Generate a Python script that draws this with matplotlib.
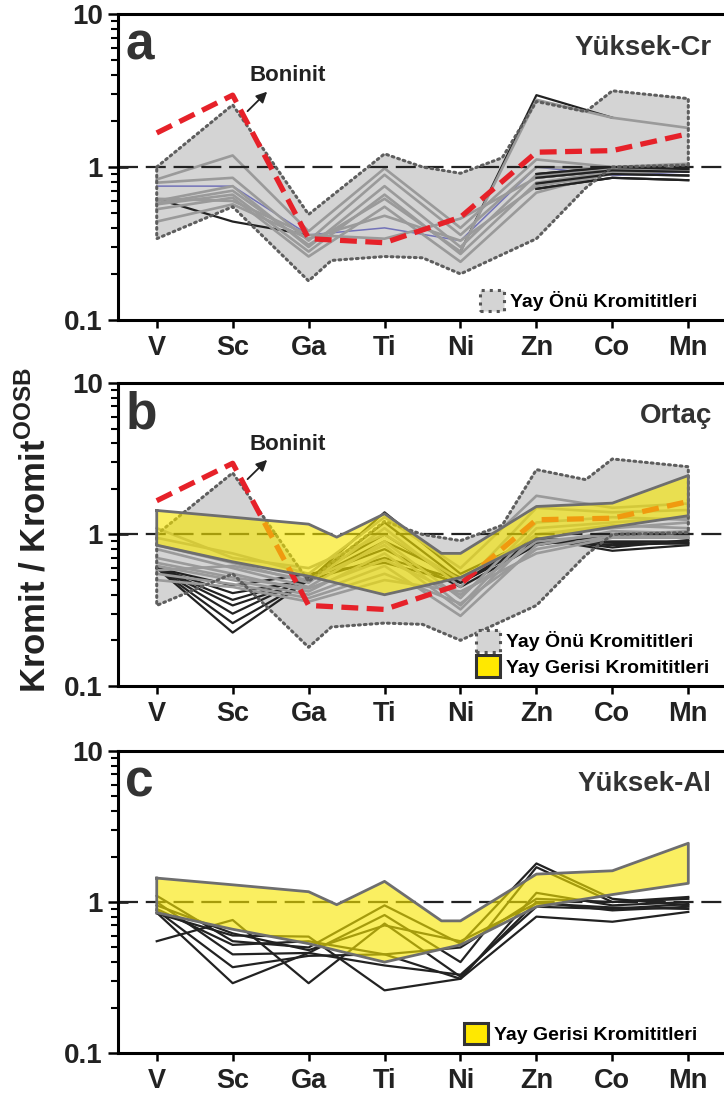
import numpy as np
import matplotlib
matplotlib.use('Agg')
from matplotlib import pyplot as plt
from matplotlib.patches import Patch
from matplotlib.ticker import LogLocator, NullFormatter, FixedFormatter, FixedLocator

plt.rcParams['font.family'] = ['Liberation Sans', 'DejaVu Sans']
plt.rcParams['font.weight'] = 'bold'
plt.rcParams['mathtext.fontset'] = 'custom'
plt.rcParams['mathtext.rm'] = 'Liberation Sans:bold'
plt.rcParams['mathtext.bf'] = 'Liberation Sans:bold'

nan = np.nan
elements = ['V', 'Sc', 'Ga', 'Ti', 'Ni', 'Zn', 'Co', 'Mn']

# boninit referans cizgisi
boninit = [1.67, 2.95, 0.34, 0.32, 0.47, 1.25, 1.28, 1.65]

# yay onu kromititleri zarfi (ust / alt sinir)
yo_ust_x = [0, 1, 2, 3, 3.5, 4, 4.55, 5, 5.65, 6, 7]
yo_ust = [1.0, 2.55, 0.49, 1.22, 1.0, 0.91, 1.15, 2.68, 2.3, 3.15, 2.8]
yo_alt_x = [0, 1, 2, 2.3, 3, 3.5, 4, 5, 5.65, 6, 7]
yo_alt = [0.34, 0.55, 0.18, 0.245, 0.26, 0.255, 0.20, 0.34, 0.73, 1.0, 1.03]

# yay gerisi kromititleri bandi
yg_ust_x = [0, 1, 2, 2.37, 3, 3.75, 4, 5, 6, 7]
yg_ust = [1.44, 1.30, 1.17, 0.96, 1.37, 0.75, 0.75, 1.53, 1.61, 2.45]
yg_alt_x = [0, 1, 2, 3, 4, 5, 6, 7]
yg_alt = [0.85, 0.66, 0.53, 0.40, 0.52, 0.93, 1.12, 1.33]

# yuksek-Cr ornekleri
a_gri = [
    [0.83, 1.19, 0.38, 0.98, 0.40, 1.12, 1.00, 1.05],
    [0.79, 0.85, 0.33, 0.89, 0.36, 1.00, 0.98, 1.02],
    [0.60, 0.75, 0.30, 0.75, 0.30, 0.89, 0.95, 1.00],
    [0.57, 0.66, 0.28, 0.66, 0.27, 0.79, 0.93, 0.98],
    [0.53, 0.63, 0.26, 0.55, 0.24, 0.68, 0.92, 0.97],
    [0.44, 0.57, 0.34, 0.48, 0.33, 0.75, 0.90, 0.95],
    [0.62, 0.60, 0.36, 0.34, 0.46, 0.85, 0.96, 1.00],
    [0.58, 0.70, 0.31, 0.62, 0.28, 2.75, 2.10, 1.80],
]
a_siyah = [
    [0.62, 0.44, 0.36, nan, nan, nan, nan, nan],
    [nan, nan, nan, nan, 0.28, 2.95, 2.10, nan],
    [nan, nan, nan, nan, nan, 0.72, 0.85, 0.82],
    [nan, nan, nan, nan, nan, 0.78, 0.90, 0.88],
    [nan, nan, nan, nan, nan, 0.85, 0.95, 0.93],
    [nan, nan, nan, nan, nan, 0.90, 1.00, 0.97],
]
a_mavi = [0.75, 0.75, 0.36, 0.40, 0.33, 1.0, 0.88, 0.93]

# ortac ornekleri
b_gri = [
    [0.95, 0.75, 0.55, 1.30, 0.60, 1.80, 1.50, 1.60],
    [0.85, 0.65, 0.48, 1.10, 0.45, 1.50, 1.40, 1.45],
    [0.80, 0.60, 0.45, 0.90, 0.38, 1.20, 1.30, 1.25],
    [0.70, 0.55, 0.42, 0.75, 0.32, 1.00, 1.15, 1.10],
    [0.62, 0.50, 0.40, 0.62, 0.29, 0.85, 1.05, 1.02],
    [0.55, 0.47, 0.38, 0.55, 0.35, 0.80, 0.98, 0.98],
    [0.50, 0.45, 0.36, 0.50, 0.42, 0.75, 0.95, 0.95],
    [1.10, 0.70, 0.60, 1.00, 0.50, 1.00, 1.10, 1.20],
    [0.65, 0.52, 0.44, 0.68, 0.40, 0.90, 1.00, 1.05],
    [0.58, 0.62, 0.50, 0.85, 0.34, 1.10, 1.20, 1.30],
]
b_siyah = [
    [0.60, 0.225, 0.50, 1.40, 0.55, 0.95, 0.78, 0.85],
    [0.60, 0.26, 0.50, 1.20, 0.50, 0.90, 0.85, 0.88],
    [0.60, 0.30, 0.52, 1.00, 0.48, 0.88, 0.90, 0.90],
    [0.60, 0.34, 0.50, 0.90, 0.52, 0.92, 0.95, 0.95],
    [0.60, 0.37, 0.52, 0.80, 0.45, 0.85, 1.00, 1.00],
    [0.60, 0.41, 0.50, 0.70, 0.50, 0.95, 0.82, 0.92],
    [0.60, 0.46, 0.55, 0.65, 0.48, 0.90, 0.88, 0.87],
]

# yuksek-Al ornekleri
c_siyah = [
    [1.10, 0.55, 0.50, 0.95, 0.53, 1.80, 1.05, 0.95],
    [1.00, 0.45, 0.46, 0.82, 0.40, 1.70, 1.00, 1.05],
    [0.88, 0.37, 0.44, 0.45, 0.31, 1.15, 0.95, 1.00],
    [0.85, 0.29, 0.46, 0.38, 0.33, 0.93, 0.90, 0.97],
    [0.55, 0.76, 0.29, 0.72, 0.32, 1.00, 0.88, 0.93],
    [0.84, 0.60, 0.59, 0.26, 0.31, 0.80, 0.74, 0.86],
    [0.90, 0.52, 0.55, 0.45, 0.50, 1.05, 1.00, 1.08],
    [0.95, 0.62, 0.48, 0.70, 0.55, 0.98, 0.92, 0.90],
]

x = np.arange(len(elements))
GRI_ZARF = '#d4d4d4'
SARI = '#f7e600'
YAZI = '#222222'


def zarf_ciz(ax):
    xs = yo_ust_x + yo_alt_x[::-1]
    ys = yo_ust + yo_alt[::-1]
    ax.fill(xs, ys, facecolor=GRI_ZARF, edgecolor='none', zorder=1)


def zarf_kenar(ax):
    xs = yo_ust_x + yo_alt_x[::-1] + [yo_ust_x[0]]
    ys = yo_ust + yo_alt[::-1] + [yo_ust[0]]
    ax.plot(xs, ys, color='#5e5e5e', lw=2.2, linestyle=(0, (0.6, 1.3)),
            dash_capstyle='round', zorder=5)


def bant_ciz(ax):
    xs = yg_ust_x + yg_alt_x[::-1]
    ys = yg_ust + yg_alt[::-1]
    ax.fill(xs, ys, facecolor=SARI, alpha=0.62, edgecolor='none', zorder=7)
    ax.plot(xs + [xs[0]], ys + [ys[0]], color='#6e6e6e', lw=2, zorder=8)


def boninit_ciz(ax):
    ax.plot(x, boninit, color='#e62129', lw=3.8, dashes=(3.2, 1.6), zorder=6)
    ax.annotate('', xy=(1.48, 3.2), xytext=(1.17, 2.25),
                arrowprops=dict(arrowstyle='-|>', color='#222222', lw=1.3,
                                mutation_scale=16), zorder=9)
    ax.text(1.22, 3.95, 'Boninit', fontsize=16, color=YAZI, va='center', ha='left')


def eksen_ayarla(ax, harf, baslik):
    ax.set_yscale('log')
    ax.set_ylim(0.1, 10)
    ax.set_xlim(-0.51, 7.47)
    ax.axhline(1, color='#222222', lw=1.6, dashes=(9, 3.5), zorder=4)
    for s in ['top', 'left', 'bottom']:
        ax.spines[s].set_linewidth(2.2)
        ax.spines[s].set_zorder(20)
    ax.spines['right'].set_visible(False)
    ax.yaxis.set_major_locator(FixedLocator([0.1, 1, 10]))
    ax.yaxis.set_major_formatter(FixedFormatter(['0.1', '1', '10']))
    ax.yaxis.set_minor_locator(LogLocator(base=10, subs=np.arange(2, 10)))
    ax.yaxis.set_minor_formatter(NullFormatter())
    ax.tick_params(axis='y', which='major', direction='inout', length=14, width=1.8,
                   labelsize=20, pad=4, labelcolor=YAZI)
    ax.tick_params(axis='y', which='minor', direction='out', length=5, width=1.5)
    ax.set_xticks(x)
    ax.set_xticklabels(elements)
    ax.tick_params(axis='x', direction='out', length=6, width=1.8, labelsize=19.5,
                   pad=5, labelcolor=YAZI)
    for t in ax.get_xticklabels() + ax.get_yticklabels():
        t.set_fontweight('bold')
    ax.text(0.012, 0.975, harf, transform=ax.transAxes, fontsize=37, color='#333333',
            va='top', ha='left')
    ax.text(0.98, 0.89, baslik, transform=ax.transAxes, fontsize=20, color='#333333',
            va='center', ha='right')


fig = plt.figure(figsize=(7.24, 10.97), dpi=100)
sol = 118 / 724
gen = 1 - sol
ax1 = fig.add_axes([sol, 0.7083, gen, 0.2789])
ax2 = fig.add_axes([sol, 0.3747, gen, 0.2762])
ax3 = fig.add_axes([sol, 0.0401, gen, 0.2753])

yo_patch = Patch(facecolor=GRI_ZARF, edgecolor='#555555', linestyle=':', lw=2.2,
                 label='Yay Önü Kromititleri')
yg_patch = Patch(facecolor='#ffe800', edgecolor='#333333', lw=2.2,
                 label='Yay Gerisi Kromititleri')
leg_ayar = dict(loc='lower right', frameon=False, fontsize=14, handlelength=1.25,
                handleheight=1.35, handletextpad=0.3, labelspacing=0.2, borderaxespad=0.2)

# (a) Yuksek-Cr
zarf_ciz(ax1)
for seri in a_siyah:
    ax1.plot(x, seri, color='#222222', lw=1.6, zorder=2)
ax1.plot(x, a_mavi, color='#7272b8', lw=1.1, zorder=2)
for seri in a_gri:
    ax1.plot(x, seri, color='#9a9a9a', lw=1.9, zorder=2)
for seri in a_siyah[2:]:
    ax1.plot(x, seri, color='#222222', lw=1.6, zorder=3)
zarf_kenar(ax1)
boninit_ciz(ax1)
eksen_ayarla(ax1, 'a', 'Yüksek-Cr')
ax1.legend(handles=[yo_patch], bbox_to_anchor=(0.975, -0.01), **leg_ayar)

# (b) Ortac
zarf_ciz(ax2)
for seri in b_siyah:
    ax2.plot(x, seri, color='#222222', lw=1.6, zorder=2)
for seri in b_gri:
    ax2.plot(x, seri, color='#9a9a9a', lw=1.9, zorder=2)
zarf_kenar(ax2)
boninit_ciz(ax2)
bant_ciz(ax2)
eksen_ayarla(ax2, 'b', 'Ortaç')
ax2.legend(handles=[yo_patch, yg_patch], bbox_to_anchor=(0.995, -0.01), **leg_ayar)

# (c) Yuksek-Al
for seri in c_siyah:
    ax3.plot(x, seri, color='#222222', lw=1.6, zorder=2)
bant_ciz(ax3)
eksen_ayarla(ax3, 'c', 'Yüksek-Al')
ax3.legend(handles=[yg_patch], bbox_to_anchor=(0.975, -0.01), **leg_ayar)

fig.text(0.048, 0.517, 'Kromit / Kromit$^{\\mathrm{OOSB}}$', rotation=90, fontsize=25,
         color=YAZI, ha='center', va='center')

fig.savefig('out.png', dpi=100)
